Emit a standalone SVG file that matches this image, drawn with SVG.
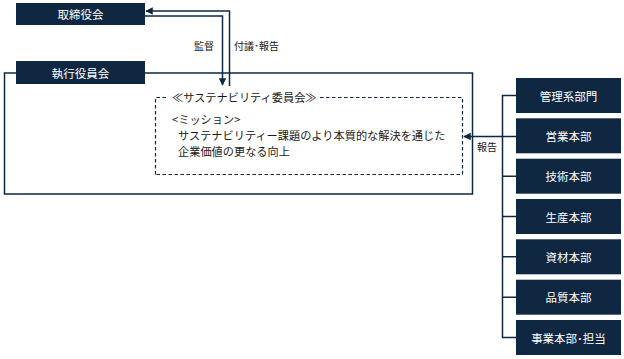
<svg xmlns="http://www.w3.org/2000/svg" width="624" height="359" viewBox="0 0 624 359">
<style>
.box{fill:#0f2740;}
.bt{fill:#ffffff;font-family:"Noto Sans CJK JP","Noto Sans",sans-serif;font-size:11.5px;text-anchor:middle;dominant-baseline:central;}
.t{fill:#1a1a1a;font-family:"Noto Sans CJK JP","Noto Sans",sans-serif;font-size:11.2px;dominant-baseline:central;}
.s{fill:#1a1a1a;font-family:"Noto Sans CJK JP","Noto Sans",sans-serif;font-size:10px;dominant-baseline:central;}
.ln{fill:none;stroke:#0f2740;stroke-width:1.5;}
</style>
<defs>
<marker id="ah" viewBox="0 0 10 10" refX="9" refY="5" markerWidth="5" markerHeight="5" orient="auto-start-reverse">
<path d="M0,0 L10,5 L0,10 z" fill="#0f2740"/>
</marker>
</defs>
<rect x="0" y="0" width="624" height="359" fill="#ffffff"/>
<g id="outer">
<rect x="4.5" y="73" width="468" height="121" fill="none" stroke="#0f2740" stroke-width="1.5"/>
</g>
<g id="committee">
<path d="M155.5,174.5 L155.5,97.5 L168,97.5 M320,97.5 L462.5,97.5 L462.5,174.5 L155.5,174.5" fill="none" stroke="#0f2740" stroke-width="1.2" stroke-dasharray="3.5,2.5"/>
<text class="t" x="172" y="97">≪サステナビリティ委員会≫</text>
<text class="t" x="172" y="119">&lt;ミッション&gt;</text>
<text class="t" x="178" y="135">サステナビリティー課題のより本質的な解決を通じた</text>
<text class="t" x="178" y="151">企業価値の更なる向上</text>
</g>
<g id="board">
<rect class="box" x="16" y="3" width="129" height="22"/>
<text class="bt" x="80.5" y="14">取締役会</text>
</g>
<g id="exec">
<rect class="box" x="16" y="61" width="129" height="23"/>
<text class="bt" x="80.5" y="72.5">執行役員会</text>
</g>
<g id="dept1"><rect class="box" x="516" y="78" width="105" height="35"/><text class="bt" x="568.5" y="95.5">管理系部門</text></g>
<g id="dept2"><rect class="box" x="516" y="118.3" width="105" height="35"/><text class="bt" x="568.5" y="135.8">営業本部</text></g>
<g id="dept3"><rect class="box" x="516" y="158.7" width="105" height="35"/><text class="bt" x="568.5" y="176.2">技術本部</text></g>
<g id="dept4"><rect class="box" x="516" y="199" width="105" height="35"/><text class="bt" x="568.5" y="216.5">生産本部</text></g>
<g id="dept5"><rect class="box" x="516" y="239.3" width="105" height="35"/><text class="bt" x="568.5" y="256.8">資材本部</text></g>
<g id="dept6"><rect class="box" x="516" y="279.7" width="105" height="35"/><text class="bt" x="568.5" y="297.2">品質本部</text></g>
<g id="dept7"><rect class="box" x="516" y="320" width="105" height="35"/><text class="bt" x="568.5" y="337.5">事業本部･担当</text></g>
<g id="connectors">
<path class="ln" d="M145,16 L222.5,16 L222.5,85" marker-end="url(#ah)"/>
<path class="ln" d="M229.5,86 L229.5,11 L146,11" marker-end="url(#ah)"/>
<path class="ln" d="M516,95.5 L502.5,95.5 L502.5,337.5 L516,337.5"/>
<path class="ln" d="M502.5,176.2 L516,176.2 M502.5,216.5 L516,216.5 M502.5,256.8 L516,256.8 M502.5,297.2 L516,297.2"/>
<path class="ln" d="M516,136.5 L464,136.5" marker-end="url(#ah)"/>
<text class="s" x="194" y="45">監督</text>
<text class="s" x="234" y="45">付議･報告</text>
<text class="s" x="477" y="146">報告</text>
</g>
</svg>
